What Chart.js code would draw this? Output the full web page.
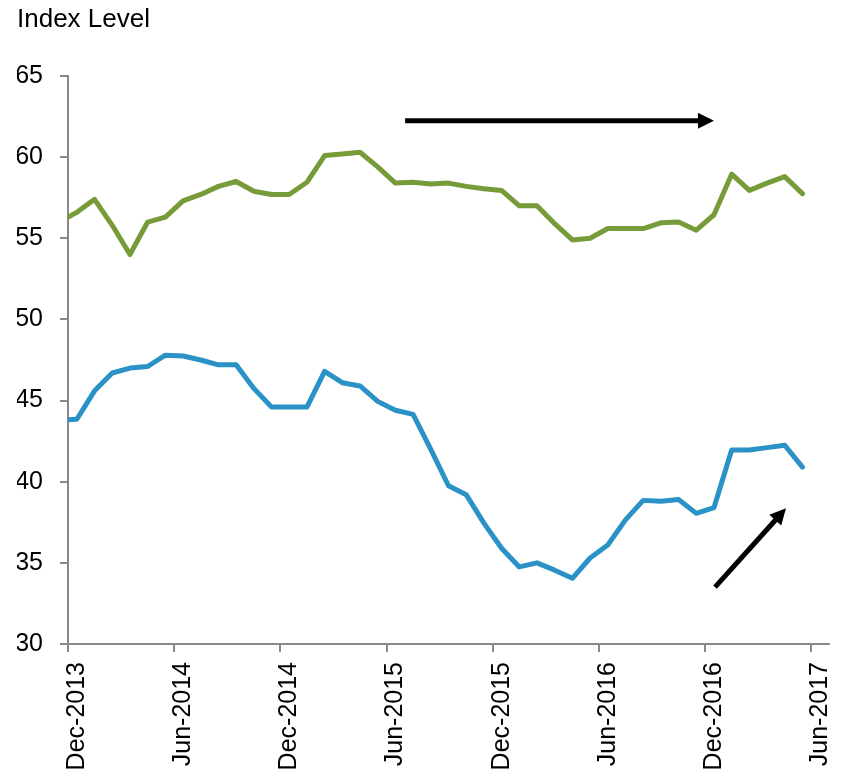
<!DOCTYPE html>
<html lang="en">
<head>
    <meta charset="UTF-8">
    <title>Index Level</title>
    <script src="https://cdn.jsdelivr.net/npm/chart.js"></script>
    <style>
        html, body {
            margin: 0;
            padding: 0;
            background: #ffffff;
            overflow: hidden;
        }
        .container {
            position: relative;
            width: 846px;
            height: 773px;
        }
    </style>
</head>
<body>
    <div class="container">
        <canvas id="indexChart"></canvas>
    </div>

    <script>
        // monthly readings (plotted mid-month), Nov-2013 is cut off by the axis
        const months = [
            'Nov-2013', 'Dec-2013',
            'Jan-2014', 'Feb-2014', 'Mar-2014', 'Apr-2014', 'May-2014', 'Jun-2014',
            'Jul-2014', 'Aug-2014', 'Sep-2014', 'Oct-2014', 'Nov-2014', 'Dec-2014',
            'Jan-2015', 'Feb-2015', 'Mar-2015', 'Apr-2015', 'May-2015', 'Jun-2015',
            'Jul-2015', 'Aug-2015', 'Sep-2015', 'Oct-2015', 'Nov-2015', 'Dec-2015',
            'Jan-2016', 'Feb-2016', 'Mar-2016', 'Apr-2016', 'May-2016', 'Jun-2016',
            'Jul-2016', 'Aug-2016', 'Sep-2016', 'Oct-2016', 'Nov-2016', 'Dec-2016',
            'Jan-2017', 'Feb-2017', 'Mar-2017', 'Apr-2017', 'May-2017'
        ];
        const greenSeries = [
            56.0, 56.6,
            57.4, 55.8, 54.0, 56.0, 56.3, 57.3, 57.7, 58.2, 58.5, 57.9, 57.7, 57.7,
            58.45, 60.1, 60.2, 60.3, 59.4, 58.4, 58.45, 58.35, 58.4, 58.2, 58.05, 57.95,
            57.0, 57.0, 55.9, 54.9, 55.0, 55.6, 55.6, 55.6, 55.95, 56.0, 55.5, 56.45,
            58.95, 57.95, 58.4, 58.8, 57.75
        ];
        const blueSeries = [
            43.8, 43.85,
            45.6, 46.7, 47.0, 47.1, 47.8, 47.75, 47.5, 47.2, 47.2, 45.75, 44.6, 44.6,
            44.6, 46.8, 46.1, 45.9, 44.95, 44.4, 44.15, 42.0, 39.75, 39.2, 37.45, 35.9,
            34.75, 35.0, 34.55, 34.05, 35.3, 36.1, 37.65, 38.85, 38.8, 38.9, 38.05, 38.4,
            41.95, 41.95, 42.1, 42.25, 40.9
        ];
        // x axis counts months from Dec-2013
        const tickMonths = [0, 6, 12, 18, 24, 30, 36, 42];
        const tickLabels = ['Dec-2013', 'Jun-2014', 'Dec-2014', 'Jun-2015', 'Dec-2015', 'Jun-2016', 'Dec-2016', 'Jun-2017'];
        const yTicks = [30, 35, 40, 45, 50, 55, 60, 65];
        // annotation arrows in data units: [month, level]
        const arrows = [
            { from: [19.05, 62.25], to: [36.5, 62.25] },
            { from: [36.56, 33.5], to: [40.57, 38.36] }
        ];

        const fontFamily = 'Arial, "Liberation Sans", sans-serif';
        const axisColor = '#898989';

        function toPoints(values) {
            return values.map((v, i) => ({ x: i - 0.5, y: v }));
        }

        const arrowPlugin = {
            id: 'arrows',
            afterDatasetsDraw(chart) {
                const ctx = chart.ctx;
                const xs = chart.scales.x;
                const ys = chart.scales.y;
                ctx.save();
                ctx.strokeStyle = '#000000';
                ctx.fillStyle = '#000000';
                ctx.lineWidth = 5;
                arrows.forEach(a => {
                    const x1 = xs.getPixelForValue(a.from[0]);
                    const y1 = ys.getPixelForValue(a.from[1]);
                    const x2 = xs.getPixelForValue(a.to[0]);
                    const y2 = ys.getPixelForValue(a.to[1]);
                    const ang = Math.atan2(y2 - y1, x2 - x1);
                    const headLen = 16;
                    const headHalf = 8;
                    const bx = x2 - headLen * Math.cos(ang);
                    const by = y2 - headLen * Math.sin(ang);
                    ctx.beginPath();
                    ctx.moveTo(x1, y1);
                    ctx.lineTo(bx + Math.cos(ang), by + Math.sin(ang));
                    ctx.stroke();
                    ctx.beginPath();
                    ctx.moveTo(x2, y2);
                    ctx.lineTo(bx + headHalf * Math.sin(ang), by - headHalf * Math.cos(ang));
                    ctx.lineTo(bx - headHalf * Math.sin(ang), by + headHalf * Math.cos(ang));
                    ctx.closePath();
                    ctx.fill();
                });
                ctx.restore();
            }
        };

        const ctx = document.getElementById('indexChart').getContext('2d');
        const indexChart = new Chart(ctx, {
            type: 'line',
            data: {
                datasets: [
                    {
                        label: 'Green index',
                        data: toPoints(greenSeries),
                        borderColor: '#789b3a',
                        borderWidth: 5,
                        pointRadius: 0,
                        tension: 0,
                        borderJoinStyle: 'round',
                        borderCapStyle: 'round',
                        clip: 0
                    },
                    {
                        label: 'Blue index',
                        data: toPoints(blueSeries),
                        borderColor: '#2a92c6',
                        borderWidth: 5,
                        pointRadius: 0,
                        tension: 0,
                        borderJoinStyle: 'round',
                        borderCapStyle: 'round',
                        clip: 0
                    }
                ]
            },
            options: {
                responsive: true,
                maintainAspectRatio: false,
                animation: false,
                layout: {
                    padding: { left: 17, right: 17, top: 0, bottom: 0 }
                },
                scales: {
                    x: {
                        type: 'linear',
                        min: 0,
                        max: 43,
                        afterBuildTicks: function(scale) {
                            scale.ticks = tickMonths.map(v => ({ value: v }));
                        },
                        afterFit: function(scale) {
                            scale.height = 129;
                            scale.paddingLeft = 0;
                            scale.paddingRight = 0;
                        },
                        grid: {
                            display: true,
                            drawOnChartArea: false,
                            drawTicks: true,
                            tickLength: 8,
                            color: axisColor,
                            lineWidth: 2
                        },
                        border: {
                            display: true,
                            color: axisColor,
                            width: 2
                        },
                        ticks: {
                            autoSkip: false,
                            maxRotation: 90,
                            minRotation: 90,
                            padding: 10,
                            labelOffset: 9,
                            color: '#000000',
                            font: { family: fontFamily, size: 25 },
                            callback: function(value) {
                                const i = tickMonths.indexOf(value);
                                return i >= 0 ? tickLabels[i] : '';
                            }
                        }
                    },
                    y: {
                        type: 'linear',
                        min: 30,
                        max: 65,
                        afterBuildTicks: function(scale) {
                            scale.ticks = yTicks.map(v => ({ value: v }));
                        },
                        afterFit: function(scale) {
                            scale.width = 51;
                        },
                        grid: {
                            display: true,
                            drawOnChartArea: false,
                            drawTicks: true,
                            tickLength: 8,
                            color: axisColor,
                            lineWidth: 2
                        },
                        border: {
                            display: true,
                            color: axisColor,
                            width: 2
                        },
                        ticks: {
                            padding: 17,
                            color: '#000000',
                            font: { family: fontFamily, size: 25 }
                        }
                    }
                },
                plugins: {
                    legend: { display: false },
                    tooltip: { enabled: false },
                    title: {
                        display: true,
                        text: 'Index Level',
                        align: 'start',
                        color: '#000000',
                        font: { family: fontFamily, size: 26, weight: 'normal', lineHeight: 1.2 },
                        padding: { top: 4, bottom: 40.8 }
                    }
                }
            },
            plugins: [arrowPlugin]
        });
    </script>
</body>
</html>
